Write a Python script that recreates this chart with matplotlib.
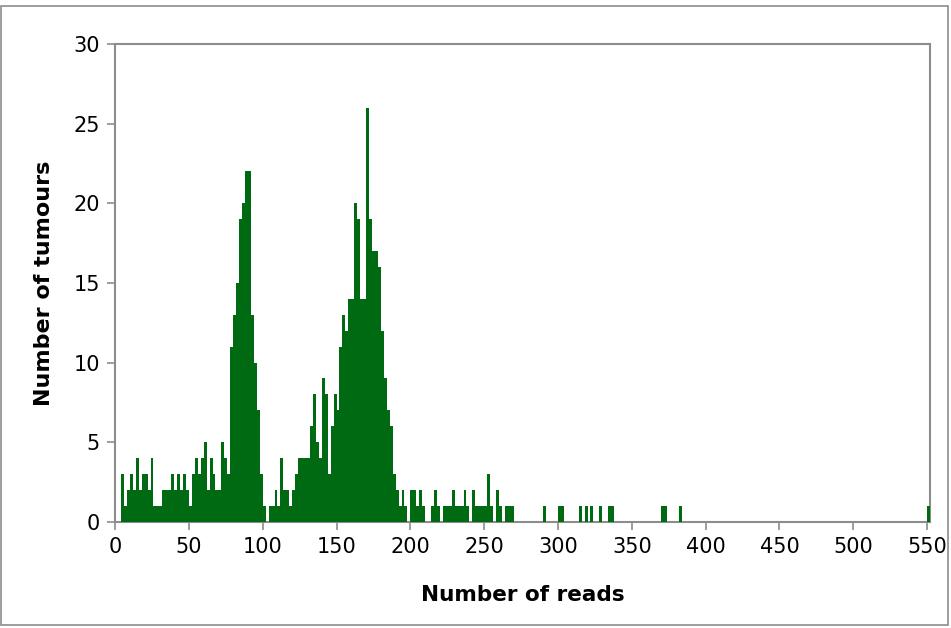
import matplotlib
matplotlib.use('Agg')
import matplotlib.pyplot as plt
import numpy as np

plt.rcParams['font.family'] = 'DejaVu Sans'

# read-count histogram, bins of width 2 starting at the listed value
BIN_START = list(range(0, 272, 2))
COUNTS = [0, 0, 3, 1, 2, 3, 2, 4, 2, 3,       # 0-18
          3, 2, 4, 1, 1, 1, 2, 2, 2, 3,       # 20-38
          2, 3, 2, 3, 2, 1, 3, 4, 3, 4,       # 40-58
          5, 2, 4, 3, 2, 2, 5, 4, 3, 11,      # 60-78
          13, 15, 19, 20, 22, 22, 13, 10, 7, 3,   # 80-98
          1, 0, 1, 1, 2, 1, 4, 2, 2, 1,       # 100-118
          2, 3, 4, 4, 4, 4, 6, 8, 5, 4,       # 120-138
          9, 8, 3, 6, 8, 7, 11, 13, 12, 14,   # 140-158
          14, 20, 19, 14, 14, 26, 19, 17, 17, 16,  # 160-178
          12, 9, 7, 6, 3, 2, 1, 2, 1, 0,      # 180-198
          2, 2, 1, 2, 1, 0, 0, 1, 2, 1,       # 200-218
          0, 1, 1, 1, 2, 1, 1, 1, 2, 1,       # 220-238
          0, 2, 1, 1, 1, 1, 3, 1, 0, 2,       # 240-258
          1, 0, 1, 1, 1, 0]                   # 260-270

# sparse tail: single tumours at high read counts
TAIL_START = [290, 300, 302, 314, 318, 322, 328, 334, 336, 370, 372, 382, 550]
TAIL_COUNTS = [1, 1, 1, 1, 1, 1, 1, 1, 1, 1, 1, 1, 1]

X_TICKS = list(range(0, 551, 50))
Y_TICKS = list(range(0, 31, 5))

GREEN = '#006a12'
GREY = '#8c8c8c'

fig = plt.figure(figsize=(9.51, 6.28), dpi=100)
ax = fig.add_axes([0.121, 0.169, 0.857, 0.761])

x = BIN_START + TAIL_START
y = COUNTS + TAIL_COUNTS
ax.bar(x, y, width=2, align='edge', color=GREEN, linewidth=0, zorder=3)

ax.set_xlim(0, 552)
ax.set_ylim(0, 30)
ax.set_xticks(X_TICKS)
ax.set_yticks(Y_TICKS)
ax.tick_params(axis='both', direction='out', length=6, width=1.2, color=GREY,
               labelsize=15, pad=5)
for side in ['left', 'bottom', 'right', 'top']:
    ax.spines[side].set_color(GREY)
    ax.spines[side].set_linewidth(1.5)

ax.set_xlabel('Number of reads', fontsize=15.5, fontweight='bold', labelpad=20)
ax.set_ylabel('Number of tumours', fontsize=16, fontweight='bold', labelpad=14)

# chart-area border
fig.patches.append(plt.Rectangle((0.001, 0.005), 0.996, 0.985, transform=fig.transFigure,
                                 fill=False, edgecolor=GREY, linewidth=1.2))

fig.savefig('out.png', dpi=100)
